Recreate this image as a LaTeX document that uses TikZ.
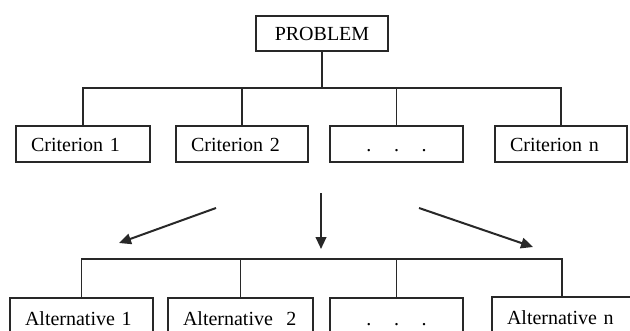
\documentclass[tikz,border=0pt]{standalone}
\usepackage{fontspec}
\setmainfont{Liberation Serif}
\usetikzlibrary{arrows.meta}
\definecolor{lineclr}{RGB}{40,40,40}
\tikzset{every picture/.style={line width=0.75pt}}
\tikzset{
  boxnode/.style 2 args={draw=lineclr, line width=1.2pt, minimum width=#1*0.75pt, minimum height=#2*0.75pt,
    inner xsep=11.25pt, inner ysep=0pt, text width=(#1-30)*0.75pt, align=left,
    text height=11pt, text depth=0pt, font=\fontsize{15}{18}\selectfont, text=black},
  dotsnode/.style={align=center},
  linkline/.style={draw=lineclr, line width=1.2pt},
  flowarrow/.style={draw=lineclr, line width=1.5pt, -{Triangle[length=9pt,width=8pt]}}
}

\begin{document}
\begin{tikzpicture}[x=0.75pt,y=0.75pt,yscale=-1,xscale=1]
\useasboundingbox (0,0) rectangle (630,331);

%Shape: Rectangle
\node [boxnode={132}{35}, align=center] (problem) at (322,33.5) {PROBLEM};

%Shape: Rectangle
\node [boxnode={134}{36}] (crit1) at (83,144) {Criterion 1};
%Shape: Rectangle
\node [boxnode={132}{36}] (crit2) at (242,144) {Criterion 2};
%Shape: Rectangle
\node [boxnode={133}{36}, dotsnode] (critdots) at (396.5,144) {.\hspace{17pt}.\hspace{17pt}.};
%Shape: Rectangle
\node [boxnode={132}{36}] (critn) at (561,144) {Criterion n};

%Shape: Rectangle
\node [boxnode={143}{40}] (alt1) at (81.5,318) {Alternative 1};
%Shape: Rectangle
\node [boxnode={145}{40}] (alt2) at (240.5,318) {Alternative\ \ 2};
%Shape: Rectangle
\node [boxnode={133}{40}, dotsnode] (altdots) at (396.5,318) {.\hspace{17pt}.\hspace{17pt}.};
%Shape: Rectangle
\node [boxnode={140}{40}] (altn) at (562,317) {Alternative n};

%Straight Lines
\coordinate (topjoin) at (problem.south |- 0,88);
\draw [linkline] (problem.south) -- (topjoin);
\draw [linkline] (crit1.north) |- (topjoin) -| (critn.north);
\draw [linkline] (crit2.north) -- (crit2.north |- topjoin);
\draw [linkline] (critdots.north) -- (critdots.north |- topjoin);

%Straight Lines
\coordinate (lowjoin) at (321,259);
\draw [linkline] (alt1.north) |- (lowjoin) -| (altn.north);
\draw [linkline] (alt2.north) -- (alt2.north |- lowjoin);
\draw [linkline] (altdots.north) -- (altdots.north |- lowjoin);

%Straight Lines
\coordinate (leftfrom) at (216,208);
\coordinate (leftto) at (119,243);
\coordinate (midfrom) at (321,193);
\coordinate (midto) at (321,249);
\coordinate (rightfrom) at (419,208);
\coordinate (rightto) at (533,247);
\draw [flowarrow] (leftfrom) -- (leftto);
\draw [flowarrow] (midfrom) -- (midto);
\draw [flowarrow] (rightfrom) -- (rightto);

\end{tikzpicture}
\end{document}
